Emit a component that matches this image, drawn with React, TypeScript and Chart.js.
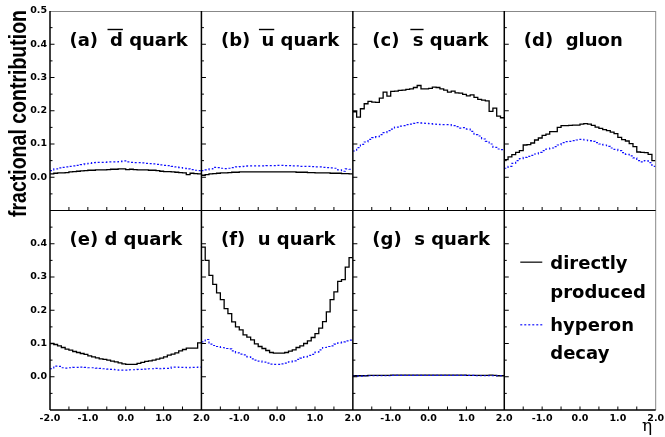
import React, { useEffect, useRef } from 'react';
import { Chart, registerables } from 'chart.js';

Chart.register(...registerables);

// bin edges in eta (40 bins from -2 to 2)
const binEdges = [
  -2.0, -1.9, -1.8, -1.7, -1.6, -1.5, -1.4, -1.3, -1.2, -1.1,
  -1.0, -0.9, -0.8, -0.7, -0.6, -0.5, -0.4, -0.3, -0.2, -0.1,
  0.0, 0.1, 0.2, 0.3, 0.4, 0.5, 0.6, 0.7, 0.8, 0.9,
  1.0, 1.1, 1.2, 1.3, 1.4, 1.5, 1.6, 1.7, 1.8, 1.9, 2.0,
];

const xTickLabels = ['-2.0', '-1.0', '0.0', '1.0', '2.0'];
const yTickLabels = ['0.0', '0.1', '0.2', '0.3', '0.4', '0.5'];
const xMarkValues = [-1.5, -1.0, -0.5, 0.0, 0.5, 1.0, 1.5];
const yMarkValues = [-0.05, 0.0, 0.05, 0.1, 0.15, 0.2, 0.25, 0.3, 0.35, 0.4, 0.45];

// (a) anti-d quark
const aDirect = [0.010,0.012,0.013,0.013,0.014,0.016,0.017,0.018,0.019,0.020,0.021,0.021,0.022,0.022,0.022,0.023,0.024,0.024,0.025,0.025,0.023,0.024,0.023,0.022,0.022,0.022,0.021,0.021,0.020,0.018,0.017,0.017,0.016,0.015,0.014,0.013,0.008,0.012,0.011,0.010];
const aHyperon = [0.020,0.025,0.028,0.030,0.031,0.033,0.034,0.036,0.038,0.040,0.042,0.044,0.045,0.045,0.045,0.046,0.046,0.046,0.047,0.049,0.046,0.045,0.044,0.044,0.043,0.042,0.041,0.040,0.039,0.037,0.036,0.035,0.033,0.031,0.029,0.027,0.025,0.023,0.021,0.020];
// (b) anti-u quark
const bDirect = [0.006,0.008,0.010,0.011,0.012,0.013,0.013,0.014,0.015,0.015,0.016,0.016,0.016,0.016,0.016,0.016,0.016,0.016,0.016,0.016,0.016,0.016,0.016,0.016,0.016,0.015,0.015,0.015,0.014,0.014,0.013,0.013,0.013,0.013,0.012,0.012,0.012,0.011,0.011,0.010];
const bHyperon = [0.020,0.022,0.025,0.030,0.029,0.027,0.026,0.027,0.029,0.031,0.032,0.033,0.034,0.034,0.034,0.034,0.034,0.035,0.035,0.035,0.036,0.036,0.035,0.035,0.034,0.034,0.033,0.033,0.033,0.032,0.031,0.031,0.030,0.029,0.028,0.027,0.022,0.018,0.025,0.024];
// (c) anti-s quark
const cDirect = [0.197,0.181,0.206,0.221,0.228,0.226,0.225,0.238,0.256,0.244,0.258,0.259,0.261,0.262,0.264,0.266,0.270,0.276,0.266,0.266,0.267,0.271,0.270,0.266,0.262,0.256,0.259,0.254,0.253,0.249,0.245,0.248,0.240,0.234,0.232,0.230,0.198,0.208,0.184,0.179];
const cHyperon = [0.079,0.089,0.099,0.106,0.114,0.119,0.122,0.128,0.134,0.140,0.145,0.151,0.154,0.155,0.158,0.160,0.162,0.164,0.163,0.162,0.161,0.160,0.159,0.158,0.158,0.158,0.155,0.152,0.148,0.149,0.145,0.138,0.128,0.124,0.115,0.108,0.100,0.090,0.085,0.083];
// (d) gluon
const dDirect = [0.053,0.061,0.068,0.075,0.080,0.097,0.098,0.103,0.112,0.118,0.126,0.130,0.137,0.137,0.150,0.155,0.155,0.156,0.157,0.157,0.160,0.161,0.160,0.156,0.151,0.147,0.143,0.140,0.136,0.131,0.120,0.113,0.109,0.101,0.092,0.076,0.075,0.074,0.069,0.050];
const dHyperon = [0.027,0.033,0.042,0.050,0.056,0.060,0.063,0.066,0.070,0.075,0.080,0.085,0.088,0.092,0.097,0.104,0.107,0.108,0.110,0.112,0.114,0.112,0.110,0.108,0.104,0.100,0.097,0.093,0.088,0.084,0.080,0.074,0.069,0.064,0.058,0.050,0.046,0.050,0.044,0.033];
// (e) d quark
const eDirect = [0.100,0.097,0.093,0.088,0.083,0.080,0.076,0.073,0.070,0.067,0.063,0.060,0.057,0.054,0.052,0.050,0.047,0.045,0.042,0.039,0.037,0.037,0.037,0.040,0.043,0.046,0.048,0.050,0.053,0.056,0.060,0.065,0.068,0.072,0.078,0.082,0.086,0.086,0.086,0.102];
const eHyperon = [0.024,0.032,0.031,0.027,0.026,0.027,0.028,0.028,0.029,0.028,0.027,0.027,0.026,0.025,0.024,0.023,0.022,0.021,0.020,0.020,0.020,0.021,0.021,0.022,0.022,0.023,0.024,0.024,0.025,0.024,0.025,0.025,0.029,0.029,0.028,0.028,0.027,0.028,0.028,0.029];
// (f) u quark
const fDirect = [0.390,0.350,0.305,0.278,0.252,0.232,0.205,0.190,0.165,0.150,0.141,0.126,0.119,0.111,0.099,0.091,0.085,0.079,0.073,0.071,0.071,0.071,0.073,0.077,0.081,0.088,0.093,0.100,0.108,0.118,0.130,0.146,0.166,0.195,0.232,0.255,0.287,0.292,0.330,0.358];
const fHyperon = [0.105,0.112,0.098,0.094,0.091,0.088,0.085,0.084,0.078,0.072,0.068,0.066,0.060,0.054,0.050,0.047,0.044,0.041,0.038,0.037,0.037,0.039,0.041,0.045,0.048,0.052,0.056,0.060,0.064,0.067,0.074,0.081,0.088,0.091,0.093,0.098,0.102,0.105,0.108,0.110];
// (g) s quark
const gDirect = [0.003,0.003,0.003,0.003,0.004,0.004,0.004,0.004,0.004,0.004,0.005,0.005,0.005,0.005,0.005,0.005,0.005,0.005,0.005,0.005,0.005,0.005,0.005,0.005,0.005,0.005,0.005,0.005,0.005,0.005,0.004,0.004,0.004,0.004,0.004,0.004,0.005,0.004,0.003,0.003];
const gHyperon = [0.002,0.002,0.002,0.003,0.003,0.003,0.003,0.003,0.003,0.003,0.004,0.004,0.004,0.004,0.004,0.004,0.004,0.004,0.004,0.004,0.004,0.004,0.004,0.004,0.004,0.004,0.004,0.004,0.004,0.004,0.004,0.004,0.003,0.003,0.003,0.003,0.003,0.003,0.003,0.003];

const seriesNames = ['directly produced', 'hyperon decay'];

type Panel = {
  col: number; row: number;
  prefix: string; bar?: string; suffix: string;
  direct: number[]; hyperon: number[];
};

const panels: Panel[] = [
  { col: 0, row: 0, prefix: '(a)', bar: 'd', suffix: ' quark', direct: aDirect, hyperon: aHyperon },
  { col: 1, row: 0, prefix: '(b)', bar: 'u', suffix: ' quark', direct: bDirect, hyperon: bHyperon },
  { col: 2, row: 0, prefix: '(c)', bar: 's', suffix: ' quark', direct: cDirect, hyperon: cHyperon },
  { col: 3, row: 0, prefix: '(d)  gluon', suffix: '', direct: dDirect, hyperon: dHyperon },
  { col: 0, row: 1, prefix: '(e) d quark', suffix: '', direct: eDirect, hyperon: eHyperon },
  { col: 1, row: 1, prefix: '(f)  u quark', suffix: '', direct: fDirect, hyperon: fHyperon },
  { col: 2, row: 1, prefix: '(g)  s quark', suffix: '', direct: gDirect, hyperon: gHyperon },
];

const SOLID = '#000000';
const BLUE = '#1010ff';
const TITLE_FONT = 'bold 18px "DejaVu Sans"';
const TICK_FONT = { family: 'DejaVu Sans', size: 9.5, weight: 'bold' as const };

function histPoints(values: number[]) {
  const pts = values.map((v, i) => ({ x: binEdges[i], y: v }));
  pts.push({ x: binEdges[binEdges.length - 1], y: values[values.length - 1] });
  return pts;
}

function fmt(v: number) {
  if (Math.abs(v) < 1e-9) return '0.0';
  return Number(v).toFixed(1);
}

const xIds = ['x0', 'x1', 'x2', 'x3'];
const yIds = ['yT', 'yB'];

const decorPlugin = {
  id: 'decor',
  afterDatasetsDraw(chart: any) {
    const ctx: CanvasRenderingContext2D = chart.ctx;
    const area = chart.chartArea;
    const xs = xIds.map((id) => chart.scales[id]);
    const ys = yIds.map((id) => chart.scales[id]);
    ctx.save();

    const line = (x1: number, y1: number, x2: number, y2: number) => {
      ctx.beginPath();
      ctx.moveTo(x1, y1);
      ctx.lineTo(x2, y2);
      ctx.stroke();
    };

    // tick marks
    ctx.strokeStyle = '#000';
    ctx.lineWidth = 1;
    for (const ys_ of ys) {
      for (const xs_ of xs) {
        for (const t of yMarkValues) {
          const py = ys_.getPixelForValue(t);
          const major = Math.abs(Math.round(t * 10) - t * 10) < 1e-6;
          line(xs_.left, py, xs_.left + (major ? 4.5 : 2.5), py);
        }
        for (const t of xMarkValues) {
          const px = xs_.getPixelForValue(t);
          line(px, ys_.bottom, px, ys_.bottom - 3.5);
        }
      }
    }

    // frame
    ctx.strokeStyle = '#888';
    ctx.lineWidth = 1;
    line(area.left, area.top + 0.5, area.right, area.top + 0.5);
    line(area.right, area.top, area.right, area.bottom);
    ctx.strokeStyle = '#000';
    ctx.lineWidth = 1.2;
    line(area.left, ys[0].bottom, area.right, ys[0].bottom);
    ctx.lineWidth = 1.5;
    line(area.left, area.bottom, area.right, area.bottom);
    for (const xs_ of xs) line(xs_.left, area.top, xs_.left, area.bottom);

    // panel titles
    ctx.fillStyle = '#000';
    ctx.font = TITLE_FONT;
    ctx.textBaseline = 'alphabetic';
    ctx.textAlign = 'left';
    for (const p of panels) {
      const x0 = xs[p.col].left + 19.5;
      const base = ys[p.row].top + 34.5;
      ctx.fillText(p.prefix, x0, base);
      if (p.bar) {
        const bx = x0 + 40.5;
        ctx.fillText(p.bar, bx, base);
        const w = ctx.measureText(p.bar).width;
        ctx.lineWidth = 1.4;
        line(bx - 2.5, base - 16, bx + w, base - 16);
        ctx.fillText(p.suffix, bx + w, base);
      }
    }

    // legend in the empty panel
    const lx = xs[3].left;
    const ly = ys[1].top;
    ctx.strokeStyle = '#333';
    ctx.lineWidth = 1.5;
    line(lx + 16, ly + 51.7, lx + 38, ly + 51.7);
    ctx.strokeStyle = BLUE;
    ctx.lineWidth = 1.2;
    ctx.setLineDash([2, 2]);
    line(lx + 16, ly + 114.3, lx + 38, ly + 114.3);
    ctx.setLineDash([]);
    ctx.fillStyle = '#000';
    ctx.fillText('directly', lx + 46, ly + 58.7);
    ctx.fillText('produced', lx + 46, ly + 87);
    ctx.fillText('hyperon', lx + 46, ly + 120.4);
    ctx.fillText('decay', lx + 46, ly + 148.7);

    // eta axis title
    ctx.font = '17px "DejaVu Serif"';
    ctx.fillText('η', 642, 431);

    // y axis title
    const yTitle = 'fractional contribution';
    ctx.font = 'bold 23px "Liberation Sans"';
    const tw = ctx.measureText(yTitle).width;
    const targetLen = 207;
    ctx.translate(25.5, 113.5);
    ctx.rotate(-Math.PI / 2);
    ctx.scale(targetLen / tw, 1);
    ctx.textAlign = 'center';
    ctx.fillText(yTitle, 0, 0);

    ctx.restore();
  },
};

export default function App() {
  const ref = useRef<HTMLCanvasElement | null>(null);

  useEffect(() => {
    if (!ref.current) return;
    const datasets: any[] = [];
    // hyperon (dashed) first so they are drawn on top
    for (const p of panels) {
      datasets.push({
        label: seriesNames[1],
        data: histPoints(p.hyperon),
        xAxisID: xIds[p.col],
        yAxisID: yIds[p.row],
        borderColor: BLUE,
        borderWidth: 1.2,
        borderDash: [2, 2],
        pointRadius: 0,
        stepped: true,
        fill: false,
      });
    }
    for (const p of panels) {
      datasets.push({
        label: seriesNames[0],
        data: histPoints(p.direct),
        xAxisID: xIds[p.col],
        yAxisID: yIds[p.row],
        borderColor: SOLID,
        borderWidth: 1.3,
        pointRadius: 0,
        stepped: true,
        fill: false,
      });
    }

    const scales: any = {};
    xIds.forEach((id, c) => {
      scales[id] = {
        type: 'linear',
        position: 'bottom',
        stack: 'x',
        stackWeight: 1,
        min: -2,
        max: 2,
        offset: false,
        grid: { display: false, drawTicks: false },
        border: { display: false },
        ticks: {
          stepSize: 1,
          autoSkip: false,
          maxRotation: 0,
          padding: 3,
          color: '#000',
          font: TICK_FONT,
          callback: (v: number) => {
            if (c > 0 && v < -1.99) return '';
            const s = fmt(v);
            return xTickLabels.includes(s) ? s : '';
          },
        },
        afterFit: (s: any) => {
          s.height = 27;
          s.paddingLeft = 0;
          s.paddingRight = 0;
        },
      };
    });
    yIds.forEach((id, r) => {
      scales[id] = {
        type: 'linear',
        position: 'left',
        stack: 'y',
        stackWeight: 1,
        weight: r === 0 ? 1 : 0,
        min: -0.1,
        max: 0.5,
        grid: { display: false, drawTicks: false },
        border: { display: false },
        ticks: {
          stepSize: 0.1,
          autoSkip: false,
          padding: 3,
          color: '#000',
          font: TICK_FONT,
          callback: (v: number) => {
            if (v < -0.05) return '';
            if (r === 1 && v > 0.45) return '';
            const s = fmt(v);
            return yTickLabels.includes(s) ? s : '';
          },
        },
        afterFit: (s: any) => {
          s.width = 50;
          s.paddingTop = 0;
          s.paddingBottom = 0;
        },
      };
    });

    const chart = new Chart(ref.current, {
      type: 'line',
      data: { datasets },
      options: {
        responsive: false,
        animation: false,
        devicePixelRatio: 1,
        parsing: false as any,
        normalized: true,
        layout: { padding: { left: 0, right: 9.3, top: 11, bottom: 0 } },
        plugins: {
          legend: { display: false },
          tooltip: { enabled: false },
        },
        elements: { line: { tension: 0 } },
        scales,
      },
      plugins: [decorPlugin],
    });
    return () => chart.destroy();
  }, []);

  return (
    <div style={{ position: 'absolute', left: 0, top: 0, width: 665, height: 437, background: '#fff' }}>
      <canvas ref={ref} width={665} height={437} style={{ display: 'block' }} />
    </div>
  );
}
